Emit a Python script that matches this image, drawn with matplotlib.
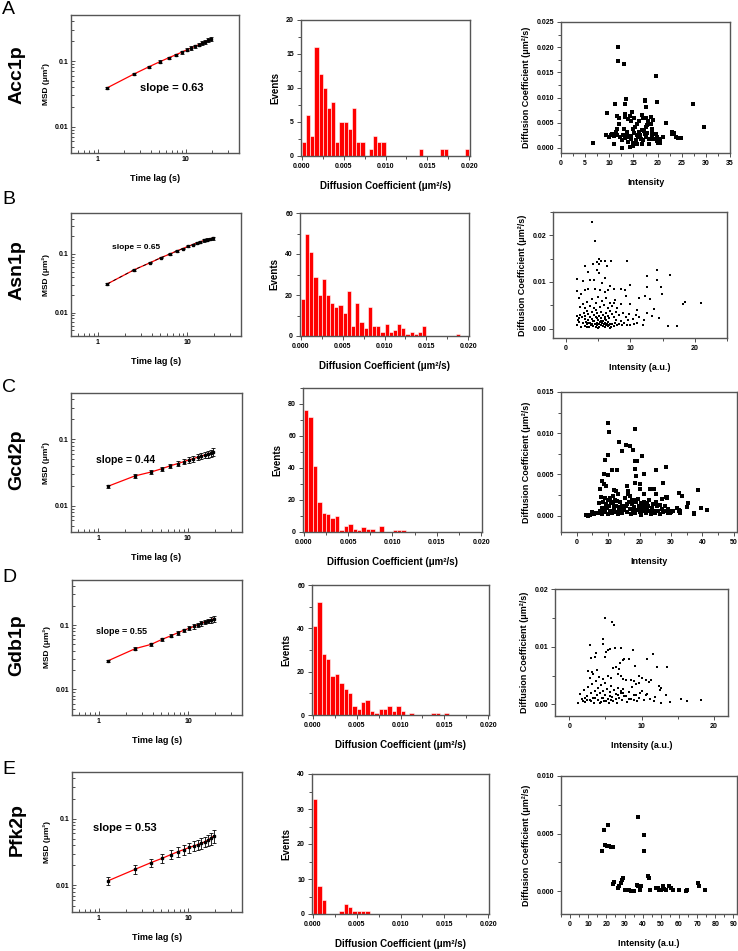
import matplotlib.pyplot as plt
from matplotlib.ticker import MultipleLocator, LogLocator, NullFormatter, FixedLocator, FixedFormatter
import numpy as np

plt.rcParams['font.family'] = ['Liberation Sans', 'DejaVu Sans']
plt.rcParams['font.weight'] = 'bold'
plt.rcParams['axes.labelweight'] = 'bold'

W, H = 738, 951

# ---------------- data ----------------
proteins = ['Acc1p', 'Asn1p', 'Gcd2p', 'Gdb1p', 'Pfk2p']
letters = ['A', 'B', 'C', 'D', 'E']
slopes = ['slope = 0.63', 'slope = 0.65', 'slope = 0.44', 'slope = 0.55', 'slope = 0.53']

lag = [1.28, 2.56, 3.84, 5.12, 6.4, 7.68, 8.96, 10.24, 11.52, 12.8, 14.08, 15.36, 16.64, 17.92, 19.2]

msd_a = [0.039, 0.063, 0.082, 0.098, 0.112, 0.124, 0.136, 0.148, 0.158, 0.168, 0.178, 0.188, 0.197, 0.206, 0.215]
err_a = [0.001, 0.002, 0.003, 0.004, 0.005, 0.006, 0.007, 0.008, 0.009, 0.010, 0.011, 0.012, 0.013, 0.014, 0.016]
msd_b = [0.031, 0.054, 0.071, 0.087, 0.100, 0.113, 0.124, 0.135, 0.145, 0.154, 0.162, 0.170, 0.176, 0.181, 0.186]
err_b = [0.001, 0.002, 0.002, 0.003, 0.003, 0.004, 0.004, 0.005, 0.005, 0.006, 0.006, 0.007, 0.008, 0.009, 0.010]
msd_c = [0.0195, 0.028, 0.032, 0.036, 0.040, 0.043, 0.046, 0.049, 0.051, 0.054, 0.056, 0.058, 0.060, 0.062, 0.065]
err_c = [0.0008, 0.0015, 0.002, 0.0025, 0.003, 0.0035, 0.004, 0.0045, 0.005, 0.0055, 0.006, 0.0065, 0.007, 0.0075, 0.008]
msd_d = [0.028, 0.043, 0.050, 0.060, 0.068, 0.076, 0.083, 0.089, 0.095, 0.101, 0.106, 0.111, 0.116, 0.120, 0.125]
err_d = [0.001, 0.002, 0.003, 0.003, 0.004, 0.005, 0.005, 0.006, 0.007, 0.007, 0.008, 0.009, 0.010, 0.011, 0.012]
msd_e = [0.0118, 0.0175, 0.022, 0.0255, 0.029, 0.032, 0.0345, 0.037, 0.039, 0.041, 0.043, 0.045, 0.048, 0.051, 0.055]
err_e = [0.0015, 0.0025, 0.003, 0.004, 0.0045, 0.005, 0.0055, 0.006, 0.0065, 0.007, 0.0075, 0.008, 0.009, 0.010, 0.012]

# histogram counts, bins of 0.0005 um2/s starting at 0
hist_a = [2, 6, 3, 16, 12, 10, 7, 8, 2, 5, 5, 4, 7, 2, 2, 0, 1, 3, 2, 2,
          0, 0, 0, 0, 0, 0, 0, 0, 1, 0, 0, 0, 0, 1, 1, 0, 0, 0, 0, 1]
hist_b = [18, 50, 41, 29, 20, 28, 20, 16, 14, 15, 11, 22, 5, 16, 7, 4, 14, 5, 5, 2,
          6, 2, 3, 6, 4, 1, 2, 1, 2, 5, 0, 0, 0, 0, 0, 0, 0, 1, 0, 0]
hist_c = [76, 72, 41, 19, 12, 11, 9, 10, 1, 4, 5, 2, 1, 3, 2, 2, 0, 4, 0, 0,
          1, 1, 1, 0, 0, 0, 0, 0, 0, 0, 0, 0, 0, 0, 0, 0, 0, 0, 0, 0]
hist_d = [41, 52, 28, 26, 18, 19, 15, 12, 10, 4, 3, 6, 7, 2, 1, 3, 3, 4, 2, 4,
          2, 0, 1, 0, 0, 0, 0, 1, 1, 0, 1, 0, 0, 0, 0, 0, 0, 0, 0, 0]
hist_e = [33, 8, 4, 0, 0, 0, 1, 3, 2, 1, 1, 1, 1, 0, 0, 0, 0, 0, 0, 0,
          0, 0, 0, 0, 0, 0, 0, 0, 0, 0, 0, 0, 0, 0, 0, 0, 0, 0, 0, 0]

# intensity vs diffusion coefficient
scat_a = [(11.9, 0.0200), (11.9, 0.0173), (13.0, 0.0166), (19.6, 0.0142), (27.4, 0.0088), (29.7, 0.0041),
          (6.6, 0.0009), (9.6, 0.0070), (11.2, 0.0088), (13.4, 0.0098), (13.2, 0.0088), (17.3, 0.0094),
          (17.4, 0.0096), (19.9, 0.0091), (17.5, 0.0082), (14.8, 0.0072), (11.7, 0.0063), (12.1, 0.0060),
          (13.2, 0.0068), (13.2, 0.0061), (14.3, 0.0063), (15.1, 0.0059), (16.8, 0.0065), (17.0, 0.0060),
          (17.7, 0.0060), (18.6, 0.0061), (19.1, 0.0055), (18.1, 0.0053), (21.7, 0.0049), (12.1, 0.0047),
          (13.9, 0.0057), (14.4, 0.0053), (16.2, 0.0053), (15.8, 0.0047), (17.9, 0.0045), (18.6, 0.0048),
          (18.8, 0.0038), (17.7, 0.0041), (11.7, 0.0038), (13.0, 0.0038), (14.9, 0.0038), (15.4, 0.0041),
          (16.7, 0.0035), (11.4, 0.0031), (10.6, 0.0028), (10.3, 0.0025), (10.0, 0.0021), (11.0, 0.0023),
          (11.5, 0.0025), (12.2, 0.0021), (12.6, 0.0015), (11.0, 0.0007), (12.7, 0.0000), (13.3, 0.0019),
          (13.9, 0.0011), (14.2, 0.0001), (14.6, 0.0024), (14.5, 0.0018), (14.9, 0.0009), (15.1, 0.0029),
          (15.5, 0.0016), (15.7, 0.0025), (15.9, 0.0021), (16.3, 0.0025), (16.5, 0.0017), (17.0, 0.0015),
          (17.4, 0.0027), (17.7, 0.0021), (18.3, 0.0018), (18.8, 0.0021), (19.1, 0.0018), (19.6, 0.0028),
          (19.8, 0.0021), (19.9, 0.0013), (20.1, 0.0009), (20.6, 0.0018), (21.2, 0.0021), (14.1, 0.0021),
          (13.7, 0.0027), (12.8, 0.0025), (23.0, 0.0031), (23.1, 0.0028), (23.4, 0.0029), (22.9, 0.0028),
          (23.8, 0.0021), (24.3, 0.0020), (24.8, 0.0019), (13.6, 0.0031), (16.1, 0.0031), (17.2, 0.0033),
          (17.9, 0.0029), (18.8, 0.0029), (16.7, 0.0008), (15.7, 0.0007), (14.9, 0.0004), (18.3, 0.0008),
          (20.5, 0.0009), (9.4, 0.0025)]

scat_b = [(4.0, 0.0228), (4.5, 0.0187), (9.5, 0.0146), (3.0, 0.0134), (4.2, 0.0139), (4.9, 0.0143),
          (5.2, 0.0149), (5.5, 0.0146), (6.1, 0.0145), (7.0, 0.0146), (6.4, 0.0134), (5.1, 0.0139),
          (3.5, 0.0122), (4.8, 0.0125), (5.2, 0.0119), (1.7, 0.0107), (2.7, 0.0102), (3.8, 0.0105),
          (4.3, 0.0104), (6.1, 0.0109), (5.6, 0.0097), (6.9, 0.0092), (7.4, 0.0086), (1.8, 0.0081),
          (2.4, 0.0074), (2.0, 0.0065), (3.0, 0.0083), (3.5, 0.0084), (4.5, 0.0084), (5.3, 0.0083),
          (6.1, 0.0079), (6.5, 0.0083), (14.1, 0.0125), (16.1, 0.0116), (12.6, 0.0112), (12.6, 0.0090),
          (14.2, 0.0104), (14.7, 0.0090), (14.9, 0.0074), (12.2, 0.0069), (11.3, 0.0066), (10.0, 0.0093),
          (9.1, 0.0083), (9.3, 0.0070), (13.0, 0.0064), (10.0, 0.0053), (7.5, 0.0054), (13.6, 0.0042),
          (14.4, 0.0023), (13.4, 0.0028), (12.6, 0.0033), (12.0, 0.0008), (12.1, 0.0019), (11.3, 0.0026),
          (11.0, 0.0040), (11.0, 0.0012), (10.5, 0.0011), (10.0, 0.0008), (9.5, 0.0008), (8.7, 0.0008),
          (15.9, 0.0006), (17.3, 0.0005), (18.2, 0.0052), (18.5, 0.0058), (21.0, 0.0056), (8.5, 0.0084),
          (2.6, 0.0012), (2.9, 0.0006), (3.1, 0.0015), (3.3, 0.0009), (3.4, 0.0019), (3.6, 0.0004),
          (3.7, 0.0013), (3.9, 0.0008), (4.0, 0.0021), (4.1, 0.0011), (4.2, 0.0005), (4.4, 0.0016),
          (4.5, 0.0009), (4.6, 0.0024), (4.7, 0.0003), (4.8, 0.0013), (4.9, 0.0007), (5.0, 0.0019),
          (5.1, 0.0010), (5.2, 0.0004), (5.3, 0.0015), (5.4, 0.0008), (5.5, 0.0022), (5.6, 0.0012),
          (5.7, 0.0005), (5.8, 0.0017), (5.9, 0.0009), (6.0, 0.0003), (6.1, 0.0013), (6.2, 0.0007),
          (6.3, 0.0019), (6.4, 0.0010), (6.5, 0.0005), (6.6, 0.0014), (6.7, 0.0008), (6.9, 0.0011),
          (7.0, 0.0004), (7.2, 0.0009), (7.4, 0.0006), (7.6, 0.0012), (7.9, 0.0007), (8.2, 0.0010),
          (1.7, 0.0027), (2.0, 0.0022), (2.2, 0.0030), (2.5, 0.0025), (2.8, 0.0033), (3.0, 0.0028),
          (3.2, 0.0038), (3.5, 0.0031), (3.8, 0.0026), (4.0, 0.0035), (4.3, 0.0029), (4.6, 0.0039),
          (4.9, 0.0033), (5.2, 0.0027), (5.4, 0.0036), (5.7, 0.0030), (6.0, 0.0025), (6.2, 0.0034),
          (6.5, 0.0028), (6.8, 0.0037), (7.1, 0.0031), (7.5, 0.0026), (7.8, 0.0035), (8.3, 0.0029),
          (8.8, 0.0033), (9.3, 0.0026), (9.8, 0.0031), (2.2, 0.0046), (2.6, 0.0052), (3.0, 0.0044),
          (3.3, 0.0058), (3.7, 0.0049), (4.1, 0.0064), (4.4, 0.0045), (4.7, 0.0055), (5.0, 0.0068),
          (5.3, 0.0047), (5.6, 0.0059), (5.9, 0.0051), (6.2, 0.0066), (6.5, 0.0044), (6.8, 0.0056),
          (7.2, 0.0048), (7.6, 0.0061), (8.0, 0.0045), (8.6, 0.0052), (1.8, 0.0008), (2.1, 0.0015),
          (2.3, 0.0004), (1.9, 0.0019), (3.0, 0.0020), (3.5, 0.0012), (4.2, 0.0017), (4.8, 0.0022),
          (5.5, 0.0016), (6.0, 0.0020), (6.7, 0.0023), (3.3, 0.0003), (5.0, 0.0001), (6.8, 0.0002),
          (7.7, 0.0018), (8.5, 0.0016), (9.0, 0.0012), (9.6, 0.0018), (10.4, 0.0021), (10.9, 0.0030)]

scat_c = [(10.0, 0.0112), (10.2, 0.0102), (18.5, 0.0105), (13.3, 0.0089), (13.6, 0.0089), (15.6, 0.0086),
          (17.1, 0.0085), (14.3, 0.0078), (17.8, 0.0079), (20.8, 0.0072), (10.0, 0.0074), (8.9, 0.0068),
          (9.0, 0.0067), (18.7, 0.0066), (19.2, 0.0066), (18.7, 0.0057), (18.9, 0.0048), (8.6, 0.0051),
          (11.3, 0.0055), (12.7, 0.0055), (21.5, 0.0051), (25.3, 0.0055), (28.4, 0.0059), (10.0, 0.0049),
          (8.1, 0.0042), (8.8, 0.0038), (9.2, 0.0036), (7.3, 0.0032), (11.8, 0.0031), (12.5, 0.0030),
          (15.9, 0.0036), (16.3, 0.0030), (16.8, 0.0024), (18.6, 0.0039), (20.0, 0.0038), (20.2, 0.0032),
          (21.3, 0.0026), (23.2, 0.0032), (24.5, 0.0032), (25.1, 0.0026), (27.6, 0.0039), (28.8, 0.0022),
          (32.4, 0.0027), (33.4, 0.0024), (35.5, 0.0015), (38.7, 0.0031), (39.7, 0.0009), (41.6, 0.0007),
          (37.3, 0.0003), (37.4, 0.0002), (32.4, 0.0007), (32.6, 0.0005), (32.8, 0.0003), (29.7, 0.0003),
          (30.0, 0.0004), (28.4, 0.0023), (28.7, 0.0021),
          (3.0, 0.0001), (3.5, 0.0000), (4.2, 0.0001), (4.8, 0.0004), (5.5, 0.0002), (6.2, 0.0003),
          (7.0, 0.0003), (7.5, 0.0005), (8.0, 0.0002), (8.5, 0.0006), (9.0, 0.0004), (9.5, 0.0009),
          (10.0, 0.0002), (10.3, 0.0012), (10.8, 0.0006), (11.2, 0.0003), (11.6, 0.0015), (12.0, 0.0008),
          (12.4, 0.0004), (12.8, 0.0018), (13.2, 0.0002), (13.6, 0.0010), (14.0, 0.0005), (14.5, 0.0003),
          (15.0, 0.0007), (15.5, 0.0021), (15.8, 0.0012), (16.1, 0.0004), (16.5, 0.0017), (16.8, 0.0008),
          (17.2, 0.0002), (17.6, 0.0014), (18.0, 0.0005), (18.3, 0.0010), (18.7, 0.0003), (19.0, 0.0016),
          (19.3, 0.0007), (19.7, 0.0012), (20.0, 0.0004), (20.3, 0.0009), (20.6, 0.0001), (21.0, 0.0013),
          (21.3, 0.0006), (21.7, 0.0010), (22.0, 0.0003), (22.4, 0.0008), (22.8, 0.0012), (23.2, 0.0005),
          (23.6, 0.0002), (24.0, 0.0009), (24.5, 0.0006), (25.0, 0.0003), (25.5, 0.0011), (26.0, 0.0005),
          (26.5, 0.0002), (27.0, 0.0008), (27.5, 0.0004), (28.2, 0.0006), (29.0, 0.0003), (29.5, 0.0005),
          (7.8, 0.0023), (8.3, 0.0017), (8.9, 0.0021), (9.4, 0.0014), (9.9, 0.0019), (10.6, 0.0021),
          (11.0, 0.0017), (11.5, 0.0024), (12.2, 0.0019), (13.0, 0.0026), (7.2, 0.0015), (13.8, 0.0017),
          (14.3, 0.0012), (16.0, 0.0014), (16.3, 0.0026), (17.5, 0.0019), (18.5, 0.0019), (19.5, 0.0020),
          (20.5, 0.0015), (21.5, 0.0017), (22.5, 0.0015), (23.0, 0.0019), (24.3, 0.0014), (25.2, 0.0017),
          (26.6, 0.0013), (27.2, 0.0020), (28.0, 0.0012), (29.2, 0.0008), (30.5, 0.0006), (31.8, 0.0009),
          (33.0, 0.0005), (35.0, 0.0010), (8.2, 0.0009), (9.2, 0.0010), (10.5, 0.0004), (11.8, 0.0010),
          (12.6, 0.0011), (13.4, 0.0006), (14.8, 0.0009)]

scat_d = [(4.9, 0.0150), (5.9, 0.0143), (6.2, 0.0137), (4.6, 0.0114), (4.7, 0.0104), (2.9, 0.0103),
          (5.4, 0.0095), (5.6, 0.0096), (6.3, 0.0097), (7.2, 0.0097), (8.8, 0.0094), (11.6, 0.0088),
          (10.7, 0.0078), (5.1, 0.0091), (3.7, 0.0089), (3.6, 0.0082), (3.0, 0.0081), (5.0, 0.0082),
          (7.5, 0.0077), (7.6, 0.0079), (7.0, 0.0072), (8.3, 0.0078), (12.2, 0.0065), (13.5, 0.0065),
          (6.0, 0.0063), (6.5, 0.0065), (6.9, 0.0061), (3.8, 0.0059), (2.6, 0.0058), (3.2, 0.0056),
          (9.1, 0.0066), (9.6, 0.0049), (7.2, 0.0050), (7.9, 0.0043), (8.6, 0.0043), (10.0, 0.0046),
          (10.6, 0.0043), (11.3, 0.0042), (11.1, 0.0039), (12.4, 0.0032), (12.7, 0.0029), (12.6, 0.0025),
          (13.4, 0.0017), (13.9, 0.0004), (15.5, 0.0009), (16.3, 0.0006), (18.3, 0.0008), (11.9, 0.0013),
          (12.7, 0.0002), (11.8, 0.0006), (10.6, 0.0016), (9.8, 0.0019), (9.3, 0.0016), (9.4, 0.0006),
          (9.0, 0.0007), (8.3, 0.0010), (7.6, 0.0014), (7.4, 0.0019), (7.2, 0.0023), (6.7, 0.0016),
          (6.4, 0.0009), (5.8, 0.0007), (5.6, 0.0014), (5.1, 0.0006), (4.6, 0.0012), (4.4, 0.0004),
          (3.9, 0.0007), (3.5, 0.0012), (3.0, 0.0006), (2.5, 0.0007), (2.1, 0.0012), (1.9, 0.0006),
          (1.2, 0.0002),
          (1.5, 0.0018), (1.8, 0.0010), (2.0, 0.0025), (2.2, 0.0004), (2.4, 0.0015), (2.6, 0.0030),
          (2.8, 0.0008), (3.0, 0.0020), (3.1, 0.0035), (3.3, 0.0012), (3.4, 0.0003), (3.5, 0.0024),
          (3.7, 0.0041), (3.8, 0.0016), (3.9, 0.0007), (4.0, 0.0029), (4.2, 0.0019), (4.3, 0.0002),
          (4.4, 0.0033), (4.5, 0.0011), (4.6, 0.0023), (4.8, 0.0006), (4.9, 0.0038), (5.0, 0.0016),
          (5.2, 0.0027), (5.3, 0.0009), (5.5, 0.0002), (5.6, 0.0021), (5.8, 0.0032), (5.9, 0.0013),
          (6.1, 0.0006), (6.2, 0.0025), (6.4, 0.0018), (6.6, 0.0003), (6.7, 0.0029), (6.9, 0.0011),
          (7.1, 0.0020), (7.3, 0.0007), (7.5, 0.0026), (7.8, 0.0014), (8.0, 0.0004), (8.2, 0.0021),
          (8.5, 0.0010), (8.7, 0.0030), (9.0, 0.0017), (9.3, 0.0035), (9.6, 0.0012), (10.0, 0.0024),
          (10.3, 0.0008), (10.8, 0.0018), (11.2, 0.0010), (2.9, 0.0046), (3.3, 0.0052), (4.1, 0.0047),
          (4.6, 0.0044), (5.3, 0.0049), (5.8, 0.0045), (6.8, 0.0053), (7.5, 0.0044), (8.9, 0.0041),
          (9.6, 0.0038)]

scat_e = [(17.6, 0.0035), (18.6, 0.0053), (21.0, 0.0057), (19.5, 0.0040), (20.2, 0.0039), (21.3, 0.0039),
          (22.3, 0.0038), (23.4, 0.0038), (37.7, 0.0064), (40.8, 0.0049), (40.6, 0.0035),
          (23.6, 0.0006), (24.1, 0.0008), (26.5, 0.0003), (27.1, 0.0004), (27.8, 0.0007), (28.4, 0.0010),
          (29.3, 0.0011), (30.1, 0.0001), (30.8, 0.0001), (31.7, 0.0001), (32.7, 0.0001), (33.6, 0.0000),
          (35.1, 0.0000), (37.1, 0.0005), (37.7, 0.0004), (38.4, 0.0001), (39.3, 0.0004), (42.7, 0.0013),
          (43.4, 0.0011), (44.2, 0.0001), (47.3, 0.0003), (48.2, 0.0003), (49.2, 0.0001), (50.1, 0.0001),
          (51.0, 0.0004), (52.0, 0.0002), (52.9, 0.0001), (54.7, 0.0004), (55.7, 0.0003), (56.6, 0.0001),
          (60.0, 0.0001), (63.7, 0.0000), (64.6, 0.0001), (70.5, 0.0007), (71.0, 0.0004), (74.2, 0.0001)]

# ---------------- layout (pixel boxes: left, top, right, bottom) ----------------
msd_boxes = [(71, 15, 239, 153), (71, 213, 241, 336), (71, 393, 242, 532), (72, 580, 242, 715), (72, 772, 242, 912)]
hist_boxes = [(301, 20, 470, 156), (300, 213, 469, 336), (303, 388, 482, 532), (312, 585, 489, 715), (312, 774, 489, 914)]
scat_boxes = [(561, 22, 730, 153), (553, 212, 727, 338), (561, 392, 737, 532), (555, 589, 728, 716), (561, 776, 737, 914)]

letter_y = [10, 200, 388, 578, 770]
name_y = [75, 270, 460, 645, 830]
slope_pos = [(0.60, 0.47, 8), (0.38, 0.72, 6), (0.32, 0.52, 7.5), (0.29, 0.62, 6.5), (0.31, 0.60, 8)]

hist_ylim = [20, 60, 90, 60, 40]
hist_ymaj = [5, 20, 20, 20, 10]

scat_xlim = [(0, 35), (-2, 25), (-5, 51), (-2, 22), (-5, 92)]
scat_ylim = [(-0.001, 0.025), (-0.002, 0.025), (-0.002, 0.015), (-0.002, 0.02), (-0.002, 0.010)]
scat_xmaj = [5, 10, 10, 10, 10]
scat_ymaj = [0.005, 0.01, 0.005, 0.01, 0.005]
scat_yfmt = ['%.3f', '%.2f', '%.3f', '%.2f', '%.3f']
scat_xlabel = ['Intensity', 'Intensity (a.u.)', 'Intensity', 'Intensity (a.u.)', 'Intensity (a.u.)']
scat_msize = [7, 2.5, 6, 2.5, 6]

spine_col = '#555555'
fig = plt.figure(figsize=(W / 100, H / 100), dpi=100)


def px_axes(box):
    l, t, r, b = box
    return fig.add_axes([l / W, 1 - b / H, (r - l) / W, (b - t) / H])


def style(ax, direction='out'):
    for s in ax.spines.values():
        s.set_color(spine_col)
        s.set_linewidth(1.0)
    ax.tick_params(which='both', direction=direction, labelsize=5, width=0.6, color='#333333', pad=2)
    ax.tick_params(which='major', length=3)
    ax.tick_params(which='minor', length=2)
    for lab in ax.get_xticklabels() + ax.get_yticklabels():
        lab.set_fontweight('bold')


msds = [msd_a, msd_b, msd_c, msd_d, msd_e]
errs = [err_a, err_b, err_c, err_d, err_e]
hists = [hist_a, hist_b, hist_c, hist_d, hist_e]
scats = [scat_a, scat_b, scat_c, scat_d, scat_e]

for i in range(5):
    # row labels
    fig.text(2 / W, 1 - letter_y[i] / H, letters[i], fontsize=14, fontweight='normal', va='center', ha='left')
    fig.text(17 / W, 1 - name_y[i] / H, proteins[i], fontsize=14, fontweight='bold', rotation=90,
             va='center', ha='center')

    # MSD log-log
    ax = px_axes(msd_boxes[i])
    ax.set_xscale('log')
    ax.set_yscale('log')
    ax.plot(lag, msds[i], color='red', lw=0.9, zorder=2)
    if i == 1:
        ax.plot(lag, msds[i], color='black', lw=0.6, ls=(0, (4, 4)), zorder=3)
    ax.errorbar(lag, msds[i], yerr=errs[i], fmt='s', ms=1.6, color='black', ecolor='black',
                elinewidth=0.6, capsize=1.5, capthick=0.6, zorder=4)
    ax.set_xlim(0.5, 40)
    ax.set_ylim(0.004, 0.5)
    ax.xaxis.set_major_locator(FixedLocator([1, 10]))
    ax.xaxis.set_major_formatter(FixedFormatter(['1', '10']))
    ax.yaxis.set_major_locator(FixedLocator([0.01, 0.1]))
    ax.yaxis.set_major_formatter(FixedFormatter(['0.01', '0.1']))
    ax.xaxis.set_minor_locator(LogLocator(base=10, subs=np.arange(2, 10)))
    ax.yaxis.set_minor_locator(LogLocator(base=10, subs=np.arange(2, 10)))
    ax.xaxis.set_minor_formatter(NullFormatter())
    ax.yaxis.set_minor_formatter(NullFormatter())
    style(ax, 'in')
    ax.set_xlabel('Time lag (s)', fontsize=6.5, labelpad=8)
    ax.set_ylabel('MSD (μm²)', fontsize=6, labelpad=3)
    sx, sy, sfs = slope_pos[i]
    ax.text(sx, sy, slopes[i], transform=ax.transAxes, fontsize=sfs, fontweight='bold', ha='center', va='center')

    # histogram
    ax = px_axes(hist_boxes[i])
    counts = hists[i]
    edges = np.arange(len(counts)) * 0.0005
    ax.bar(edges, counts, width=0.0005, align='edge', color='#ff0000', edgecolor='white', linewidth=0.4)
    ax.set_xlim(-0.0001, 0.0201)
    ax.set_ylim(0, hist_ylim[i])
    ax.xaxis.set_major_locator(MultipleLocator(0.005))
    ax.xaxis.set_minor_locator(MultipleLocator(0.0025))
    ax.yaxis.set_major_locator(MultipleLocator(hist_ymaj[i]))
    ax.yaxis.set_minor_locator(MultipleLocator(hist_ymaj[i] / 2))
    ax.xaxis.set_major_formatter(plt.FormatStrFormatter('%.3f'))
    ax.yaxis.set_major_formatter(plt.FormatStrFormatter('%d'))
    style(ax)
    ax.set_xlabel('Diffusion Coefficient (μm²/s)', fontsize=7, labelpad=8)
    ax.set_ylabel('Events', fontsize=7, labelpad=4)

    # scatter
    ax = px_axes(scat_boxes[i])
    pts = np.array(scats[i])
    ax.scatter(pts[:, 0], pts[:, 1], s=scat_msize[i], marker='s', color='black', linewidths=0)
    ax.set_xlim(*scat_xlim[i])
    ax.set_ylim(*scat_ylim[i])
    ax.xaxis.set_major_locator(MultipleLocator(scat_xmaj[i]))
    ax.xaxis.set_minor_locator(MultipleLocator(scat_xmaj[i] / 2))
    ax.yaxis.set_major_locator(MultipleLocator(scat_ymaj[i]))
    ax.yaxis.set_minor_locator(MultipleLocator(scat_ymaj[i] / 2))
    ax.yaxis.set_major_formatter(plt.FormatStrFormatter(scat_yfmt[i]))
    style(ax)
    ax.set_xlabel(scat_xlabel[i], fontsize=6.5, labelpad=8)
    ax.set_ylabel('Diffusion Coefficient (μm²/s)', fontsize=6.5, labelpad=4)

fig.savefig('out.png', dpi=100)
